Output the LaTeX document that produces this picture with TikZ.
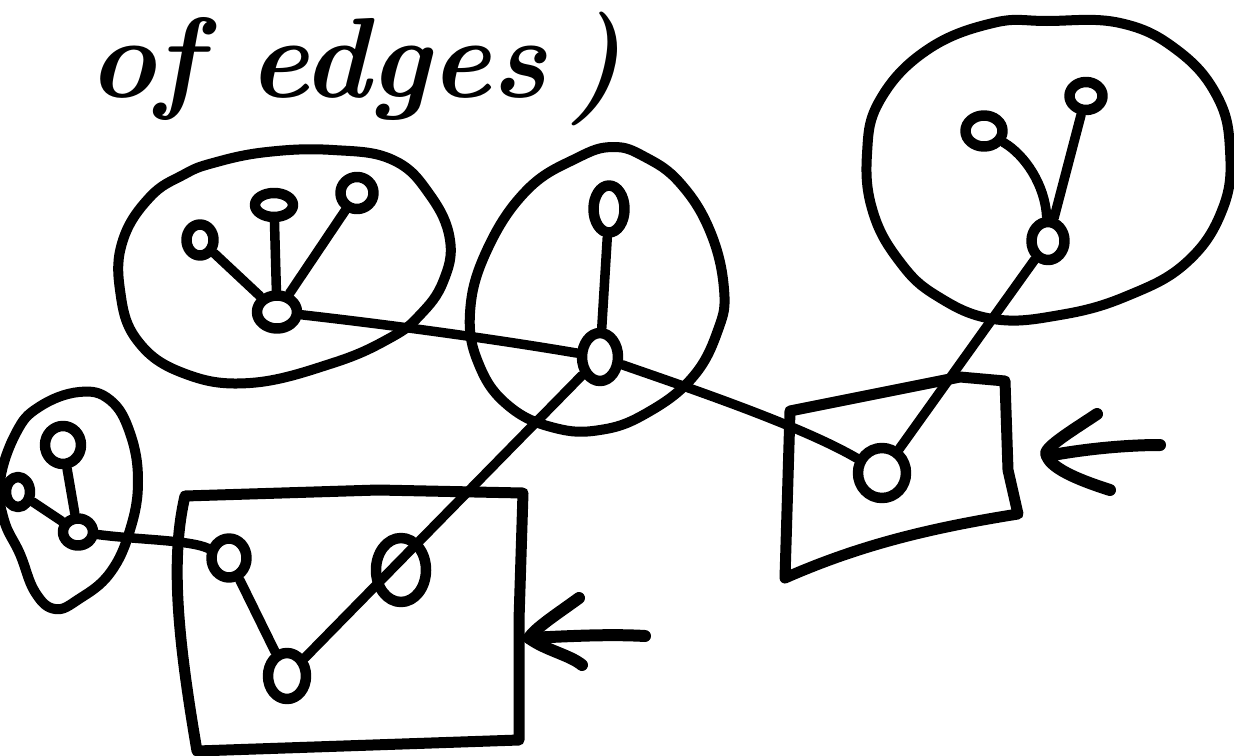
\documentclass[tikz,border=0pt]{standalone}
\usetikzlibrary{shapes.geometric}
\begin{document}
\begin{tikzpicture}[x=1pt,y=-1pt,line cap=round,line join=round,
  pen/.style={line width=10pt},
  framepen/.style={line width=11pt},
  arrowpen/.style={line width=12pt},
  vtx/.style={draw,ellipse,line width=10.5pt,inner sep=0pt},
  link/.style={line width=9.5pt}]
\useasboundingbox (0,0) rectangle (1234,755);
\clip (0,0) rectangle (1234,755);

% heading
\node[anchor=base west,inner sep=0pt,font=\fontsize{114}{118}\selectfont\bfseries\itshape] (title) at (88,97) {of edges\kern22pt)};

% cluster outlines
\draw[pen] plot[smooth cycle,tension=0.7] coordinates {(213,163) (267,152) (333,150) (393,160) (430,195) (450,240) (443,282) (420,315) (390,338) (333,363) (250,383) (183,373) (137,340) (120,290) (123,240) (150,197) (183,175)};
\draw[pen] plot[smooth cycle,tension=0.7] coordinates {(613,147) (645,157) (680,183) (710,231) (724,289) (718,330) (692,378) (645,414) (600,430) (555,428) (510,407) (480,367) (470,313) (487,250) (527,190) (577,158)};
\draw[pen] plot[smooth cycle,tension=0.7] coordinates {(1047,21) (1120,23) (1177,50) (1217,96) (1230,150) (1223,208) (1187,262) (1127,296) (1060,315) (993,319) (937,296) (900,262) (873,212) (867,154) (880,100) (927,50) (993,23)};
\draw[pen] plot[smooth cycle,tension=0.7] coordinates {(79,392) (110,400) (130,433) (138,481) (130,530) (110,573) (79,599) (55,609) (35,592) (20,554) (4,520) (0,481) (16,433) (39,407)};

% boxes
\draw[framepen] (185,496) -- (378,490) -- (523,493) -- (519,620) -- (519,740) -- (197,751) .. controls (178,640) and (170,560) .. (185,496);
\draw[framepen] (790,411) -- (960,377) -- (1005,381) -- (1008,470) -- (1018,514) .. controls (930,528) and (860,545) .. (785,578) -- cycle;

% vertices
\node[vtx,minimum width=27pt,minimum height=31pt] (aL) at (200,240) {};
\node[vtx,minimum width=38pt,minimum height=24pt] (aM) at (274,205) {};
\node[vtx,minimum width=33pt,minimum height=32pt] (aR) at (357,193) {};
\node[vtx,minimum width=40pt,minimum height=33pt] (aH) at (277,312) {};

\node[vtx,minimum width=31pt,minimum height=47pt] (bT) at (609,209) {};
\node[vtx,minimum width=36pt,minimum height=48pt] (bH) at (600,357) {};

\node[vtx,minimum width=37pt,minimum height=31pt] (cL) at (984,131) {};
\node[vtx,minimum width=33pt,minimum height=28pt] (cR) at (1086,96) {};
\node[vtx,minimum width=33pt,minimum height=38pt] (cH) at (1048,241) {};

\node[vtx,minimum width=36pt,minimum height=38pt] (dT) at (63,445) {};
\node[vtx,minimum width=24pt,minimum height=30pt] (dL) at (18,492) {};
\node[vtx,minimum width=30pt,minimum height=27pt] (dH) at (78,532) {};

\node[vtx,minimum width=35pt,minimum height=39pt] (pL) at (229,558) {};
\node[vtx,minimum width=50pt,minimum height=64pt] (pR) at (401,570) {};
\node[vtx,minimum width=38pt,minimum height=46pt] (pB) at (287,676) {};

\node[vtx,minimum width=48pt,minimum height=50pt] (qN) at (882,473) {};

% edges inside clusters
\draw[link] (aL) -- (aH);
\draw[link] (aM) -- (aH);
\draw[link] (aR) -- (aH);
\draw[link] (bT) -- (bH);
\draw[link] (cL) .. controls (1025,155) and (1045,185) .. (cH);
\draw[link] (cR) -- (cH);
\draw[link] (dT) -- (dH);
\draw[link] (dL) -- (dH);
\draw[link] (pL) -- (pB);

% edges between clusters
\draw[link] (aH) .. controls (400,326) and (500,340) .. (bH);
\draw[link] (bH) -- (pB);
\draw[link] (bH) .. controls (680,385) and (800,425) .. (qN);
\draw[link] (cH) -- (qN);
\draw[link] (dH) .. controls (140,540) and (190,540) .. (pL);

% pointers at the boxes
\coordinate (rTip) at (1047,456);
\coordinate (rUp) at (1097,414);
\coordinate (rLow) at (1110,490);
\coordinate (rEnd) at (1160,445);
\draw[arrowpen] (rUp) .. controls (1070,432) and (1040,450) .. (rTip) .. controls (1052,470) and (1085,482) .. (rLow);
\draw[arrowpen] (rTip) .. controls (1090,448) and (1130,445) .. (rEnd);

\coordinate (lTip) at (529,638);
\coordinate (lUp) at (579,598);
\coordinate (lLow) at (582,665);
\coordinate (lEnd) at (645,636);
\draw[arrowpen] (lUp) .. controls (560,612) and (535,628) .. (lTip) .. controls (545,650) and (570,655) .. (lLow);
\draw[arrowpen] (lTip) .. controls (570,636) and (610,634) .. (lEnd);
\end{tikzpicture}
\end{document}
